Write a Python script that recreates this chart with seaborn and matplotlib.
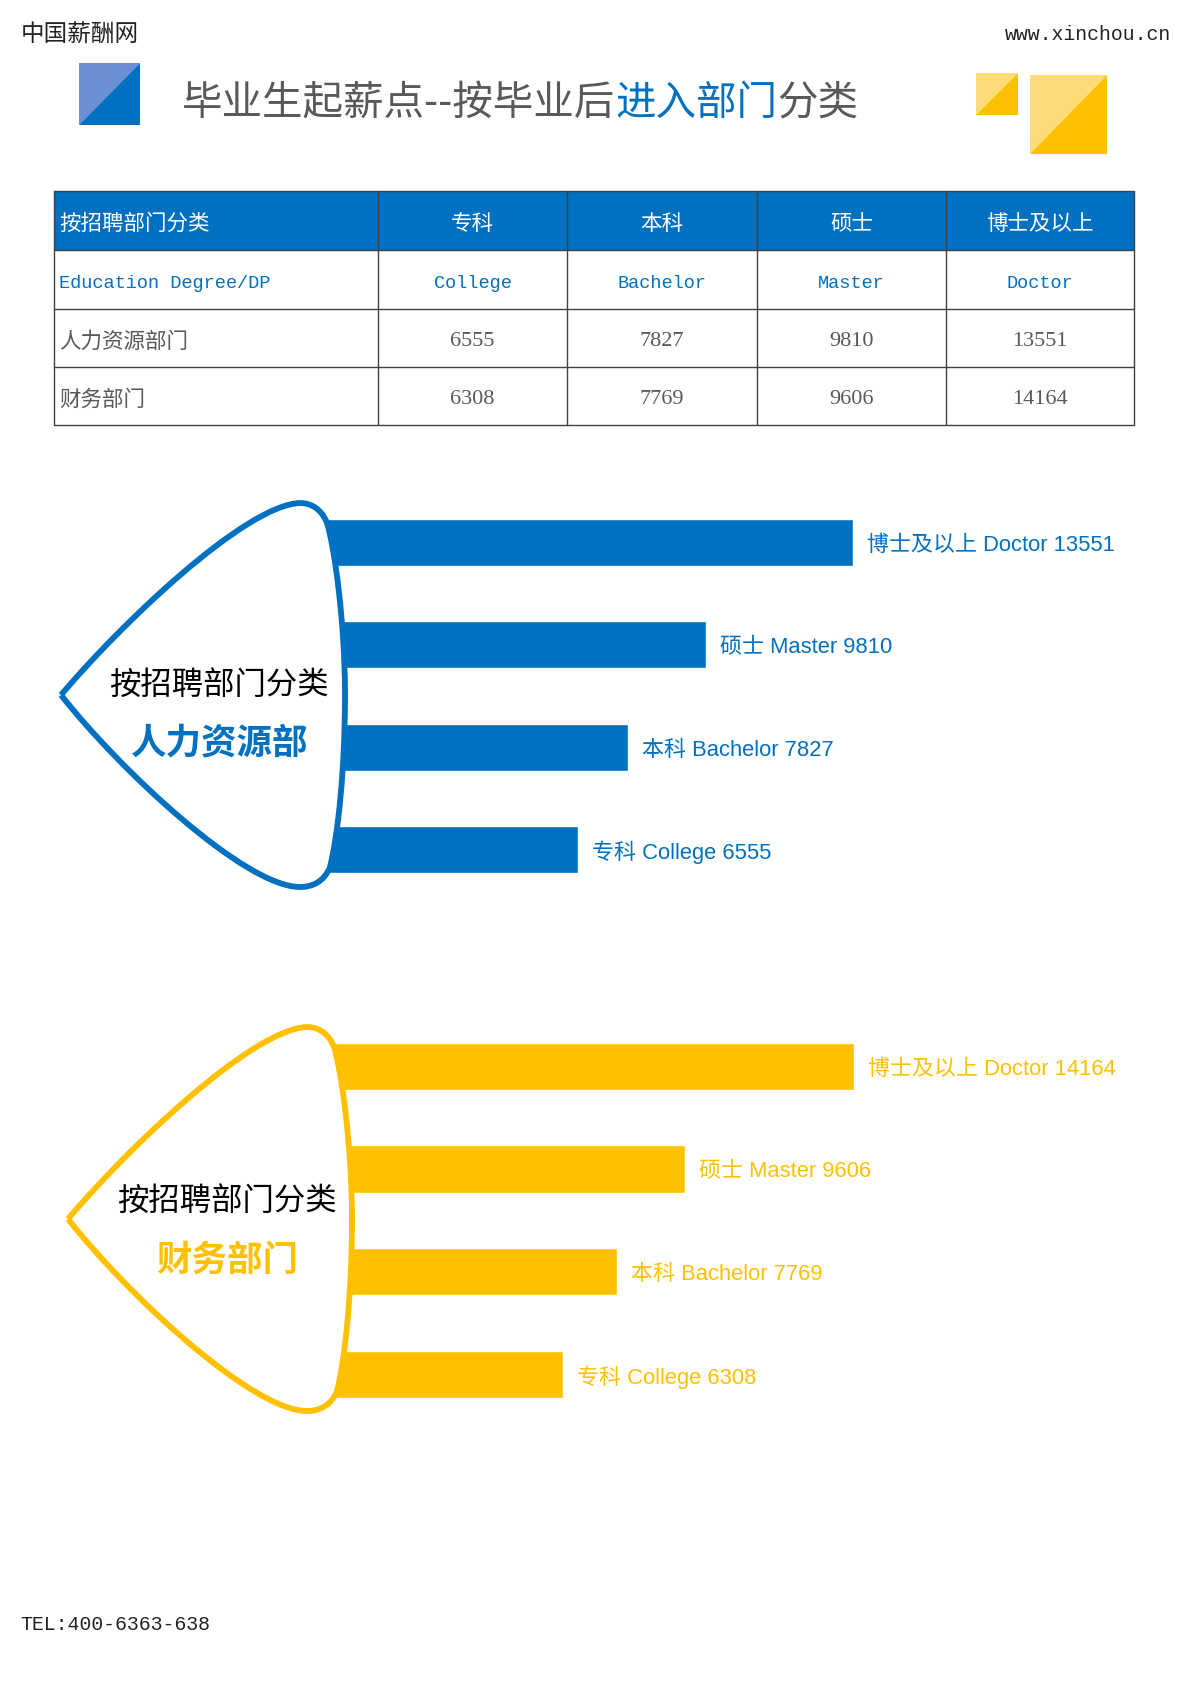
import numpy as np
import pandas as pd
import matplotlib
matplotlib.use("Agg")
import matplotlib.pyplot as plt
from matplotlib.patches import Polygon, Rectangle, PathPatch
from matplotlib.path import Path
import seaborn as sns

# -------------------- Data --------------------

degree_cn = ['专科', '本科', '硕士', '博士及以上']
degree_en = ['College', 'Bachelor', 'Master', 'Doctor']
hr_salary = [6555, 7827, 9810, 13551]
fin_salary = [6308, 7769, 9606, 14164]
dept_names = ['人力资源部门', '财务部门']
dept_short = ['人力资源部', '财务部门']

title_parts = ['毕业生起薪点--按毕业后', '进入部门', '分类']
table_head = '按招聘部门分类'
table_sub = 'Education Degree/DP'

BLUE = '#0070C0'
YELLOW = '#FFC000'
GRAY = '#595959'

W, H = 1190, 1684
CJK = ['Noto Sans CJK SC', 'DejaVu Sans']
LABEL_FONT = ['Liberation Sans', 'Noto Sans CJK SC']


# -------------------- Decorations --------------------

def split_square(ax, x0, y0, x1, y1, light, dark):
    """Square cut along the diagonal, light upper-left, dark lower-right."""
    ax.add_patch(Polygon([(x0, y0), (x1, y0), (x0, y1)], closed=True,
                         facecolor=light, edgecolor='none'))
    ax.add_patch(Polygon([(x1, y0), (x1, y1), (x0, y1)], closed=True,
                         facecolor=dark, edgecolor='none'))


def draw_header(fig, ax):
    ax.text(21, 35, '中国薪酬网', fontsize=17, family=CJK, color='#222222',
            va='center', ha='left')
    ax.text(1171, 35, 'www.xinchou.cn', fontsize=14.3, family=['Liberation Mono'],
            color='#222222', va='center', ha='right')

    split_square(ax, 79, 63, 140, 125, '#6C8ED4', BLUE)
    split_square(ax, 976, 73, 1018, 115, '#FFDC78', YELLOW)
    split_square(ax, 1030, 75, 1107, 154, '#FFDC78', YELLOW)

    # title in three colour pieces laid side by side
    renderer = fig.canvas.get_renderer()
    x = 182
    for part, color in zip(title_parts, [GRAY, BLUE, GRAY]):
        t = ax.text(x, 103, part, fontsize=29.2, family=CJK, color=color,
                    va='center', ha='left')
        x += t.get_window_extent(renderer).width


def draw_table(ax):
    cols = [54, 378, 567, 757, 946, 1134]
    rows = [191, 250, 309, 367, 425]
    ax.add_patch(Rectangle((cols[0], rows[0]), cols[-1] - cols[0], rows[1] - rows[0],
                           facecolor=BLUE, edgecolor='none'))
    for y in rows:
        ax.plot([cols[0], cols[-1]], [y, y], color='#404040', lw=1)
    for x in cols:
        ax.plot([x, x], [rows[0], rows[-1]], color='#404040', lw=1)

    centers = [(a + b) / 2 for a, b in zip(cols[1:-1], cols[2:])]
    mids = [(a + b) / 2 + 3.5 for a, b in zip(rows[:-1], rows[1:])]

    ax.text(cols[0] + 5, mids[0], table_head, fontsize=15.5, family=CJK,
            color='white', va='center', ha='left')
    ax.text(cols[0] + 5, mids[1], table_sub, fontsize=13.4, family=['Liberation Mono'],
            color=BLUE, va='center', ha='left')
    for cx, cn, en in zip(centers, degree_cn, degree_en):
        ax.text(cx, mids[0], cn, fontsize=15.5, family=CJK, color='white',
                va='center', ha='center')
        ax.text(cx, mids[1], en, fontsize=13.4, family=['Liberation Mono'],
                color=BLUE, va='center', ha='center')

    for r, (name, vals) in enumerate(zip(dept_names, [hr_salary, fin_salary])):
        ax.text(cols[0] + 5, mids[2 + r], name, fontsize=15.5, family=CJK,
                color=GRAY, va='center', ha='left')
        for cx, v in zip(centers, vals):
            ax.text(cx, mids[2 + r], str(v), fontsize=16, family=['Liberation Serif'],
                    color=GRAY, va='center', ha='center')


def draw_shield(ax, dx, dy, color):
    """Rounded arrow-head outline with a white fill, covering the bar starts."""
    pts = [
        (61, 695),
        (120, 625), (245, 505), (300, 503),
        (312, 503), (322, 510), (327, 523),
        (334, 545), (345, 620), (345, 695),
        (345, 770), (338, 835), (330, 867),
        (324, 882), (312, 887), (300, 887),
        (245, 887), (120, 770), (61, 695),
    ]
    codes = [Path.MOVETO] + [Path.CURVE4] * 18
    verts = [(x + dx, y + dy) for x, y in pts]
    ax.add_patch(PathPatch(Path(verts, codes), facecolor='white', edgecolor=color,
                           lw=4.2, zorder=3))


# -------------------- Bar charts --------------------

def bar_panel(fig, left_px, top_px, px_per_unit, step_px, values, color):
    ax = fig.add_axes([left_px / W, 1 - (top_px + 4 * step_px) / H,
                       800 / W, 4 * step_px / H])
    ax.set_zorder(1)
    df = pd.DataFrame({'degree': degree_en[::-1], 'salary': values[::-1]})
    sns.barplot(data=df, x='salary', y='degree', orient='h', color=color,
                saturation=1, width=0.46, ax=ax)
    ax.set_xlim(0, 800 / px_per_unit)
    ax.set_ylim(3.5, -0.5)
    ax.axis('off')
    for i, (cn, en, v) in enumerate(zip(degree_cn[::-1], degree_en[::-1], values[::-1])):
        ax.annotate(f'{cn} {en} {v}', xy=(v, i), xytext=(14, -3),
                    textcoords='offset pixels', va='center', ha='left',
                    fontsize=15.8, family=LABEL_FONT, color=color)
    return ax


# -------------------- Main --------------------

def main():
    sns.set_style('white')
    plt.rcParams['font.family'] = CJK

    fig = plt.figure(figsize=(W / 100, H / 100), dpi=100)
    fig.patch.set_facecolor('white')

    bar_panel(fig, 320, 491, 0.0393, 102.5, hr_salary, BLUE)
    bar_panel(fig, 328.5, 1015, 0.0371, 102.7, fin_salary, YELLOW)

    canvas = fig.add_axes([0, 0, 1, 1])
    canvas.set_zorder(2)
    canvas.set_xlim(0, W)
    canvas.set_ylim(H, 0)
    canvas.axis('off')
    canvas.patch.set_alpha(0)

    draw_header(fig, canvas)
    draw_table(canvas)

    draw_shield(canvas, 0, 0, BLUE)
    canvas.text(219, 685, table_head, fontsize=22.6, family=CJK, color='black',
                va='center', ha='center', zorder=4)
    canvas.text(219, 743, dept_short[0], fontsize=25.6, family=CJK, weight='bold',
                color=BLUE, va='center', ha='center', zorder=4)

    draw_shield(canvas, 7, 524, YELLOW)
    canvas.text(227, 1201, table_head, fontsize=22.6, family=CJK, color='black',
                va='center', ha='center', zorder=4)
    canvas.text(227, 1260, dept_short[1], fontsize=25.6, family=CJK, weight='bold',
                color=YELLOW, va='center', ha='center', zorder=4)

    canvas.text(20, 1624, 'TEL:400-6363-638', fontsize=14.3, family=['Liberation Mono'],
                color='#222222', va='center', ha='left')

    fig.savefig('out.png', dpi=100)
    plt.close(fig)


if __name__ == "__main__":
    main()
